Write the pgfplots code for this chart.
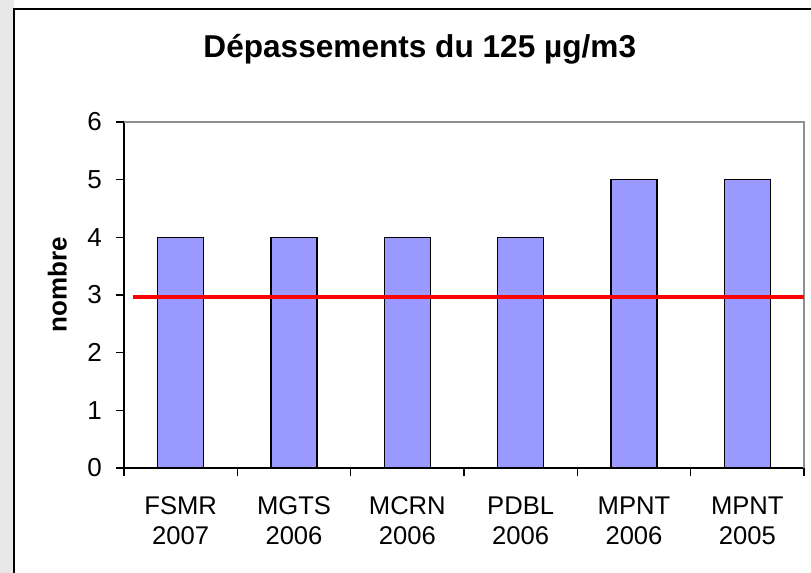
\documentclass[border=0pt]{standalone}
\usepackage{fontspec}
\setmainfont{Liberation Sans}
\usepackage{pgfplots}
\pgfplotsset{compat=1.18}
\definecolor{barblue}{HTML}{9999FF}
\definecolor{framegray}{HTML}{909090}

\begin{document}
\begin{tikzpicture}
% page = 811 x 573 px at 0.5pt/px, axis box lower-left at (0,0)
\path[use as bounding box] (-62pt,-52.5pt) rectangle (343.5pt,234pt);
\fill[gray!18] (-62pt,-52.5pt) rectangle (-55pt,234pt);
\draw[black,line width=0.8pt] (-55pt,-70pt) -- (-55pt,229.5pt) -- (360pt,229.5pt);
\begin{axis}[
 scale only axis,width=340pt,height=173pt,
 xmin=-0.5,xmax=5.5,ymin=0,ymax=6,
 ytick={0,1,...,6},
 xtick={0,...,5},
 xticklabels={{FSMR\\2007},{MGTS\\2006},{MCRN\\2006},{PDBL\\2006},{MPNT\\2006},{MPNT\\2005}},
 minor xtick={-0.5,0.5,...,5.5},
 major x tick style={draw=none},
 major tick length=4pt,
 minor tick length=4pt,
 tick align=outside,
 tick style={black,line width=0.6pt},
 axis x line*=bottom,axis y line*=left,
 axis line style={black,line width=0.6pt},
 xticklabel style={align=center,font=\fontsize{12.8}{15}\selectfont,yshift=-7pt},
 yticklabel style={font=\fontsize{13}{15}\selectfont,xshift=-3.5pt},
 /pgf/number format/assume math mode=true,
 title={\bfseries Dépassements du 125 µg/m3},
 title style={at={(axis description cs:0.435,1.153)},anchor=base,
   font=\fontsize{15.8}{18}\selectfont},
 ylabel={\bfseries nombre},
 ylabel style={at={(axis description cs:-0.098,0.53)},anchor=center,
   font=\fontsize{13}{15}\selectfont},
 clip=false
]
\draw[framegray,line width=0.7pt] (axis cs:-0.5,6) -- (axis cs:5.5,6) -- (axis cs:5.5,0);
\addplot[ybar,bar width=23pt,fill=barblue,draw=black,line width=0.7pt] coordinates
 {(0,4) (1,4) (2,4) (3,4) (4,5) (5,5)};
\addplot[red,line width=2pt] coordinates {(-0.42,2.97) (5.5,2.97)};
\end{axis}
\end{tikzpicture}
\end{document}
